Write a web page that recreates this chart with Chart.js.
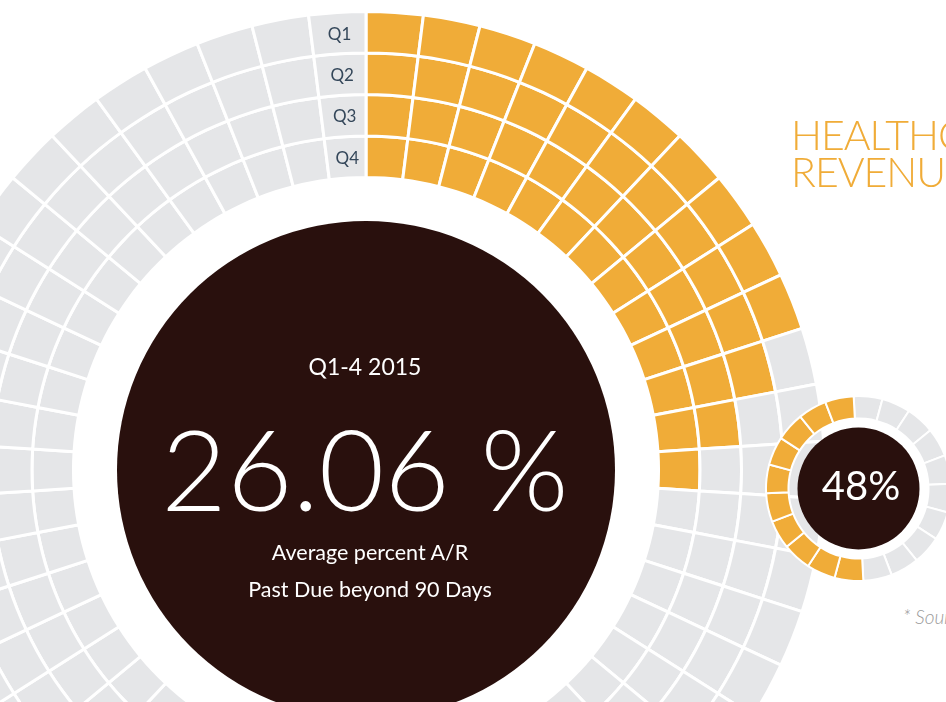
<!DOCTYPE html>
<html>
<head>
<meta charset="utf-8">
<script src="https://cdn.jsdelivr.net/npm/chart.js@4.4.1/dist/chart.umd.min.js"></script>
<style>
html, body { margin: 0; padding: 0; width: 946px; height: 702px; overflow: hidden; background: #fff; font-family: Lato, 'Open Sans', sans-serif; }
#ringChart { position: absolute; left: -94px; top: 10px; }
#smallChart { position: absolute; left: 765px; top: 395px; }
.txt { position: absolute; white-space: nowrap; transform: translate(-50%, -50%); line-height: 1; color: #fff; }
#period { left: 365px; top: 366px; font-size: 23px; }
#bigValue { left: 365px; top: 467px; font-size: 113px; font-weight: 300; }
#caption1 { left: 370px; top: 553px; font-size: 21.5px; }
#caption2 { left: 370px; top: 590px; font-size: 21.5px; }
#smallValue { left: 861px; top: 485px; font-size: 40px; }
#title { position: absolute; left: 791px; top: 116px; font-size: 41px; line-height: 37px; font-weight: 300; letter-spacing: -1px; color: #f0ac38; white-space: nowrap; }
#source { position: absolute; left: 903px; top: 605px; font-size: 19px; font-style: italic; font-weight: 300; color: #9b9b9b; white-space: nowrap; }
</style>
</head>
<body>
<canvas id="ringChart" width="920" height="920"></canvas>
<canvas id="smallChart" width="187" height="187"></canvas>
<div class="txt" id="period">Q1-4 2015</div>
<div class="txt" id="bigValue">26.06 %</div>
<div class="txt" id="caption1">Average percent A/R</div>
<div class="txt" id="caption2">Past Due beyond 90 Days</div>
<div class="txt" id="smallValue">48%</div>
<div id="title">HEALTHCARE<br>REVENUE</div>
<div id="source">* Source</div>
<script>
// rings, outer to inner
var quarters = ['Q1', 'Q2', 'Q3', 'Q4'];
var filledCells = [10, 11, 12, 13];   // orange cells per ring (each cell = 2%)
var cellsPerRing = 50;

// small gauge
var smallCells = 20;
var smallFilled = 10;

const orange = '#f0ac38';
const grey = '#e5e6e8';
const dark = '#29100d';

var discPlugin = {
    id: 'disc',
    afterDatasetsDraw: function (chart, args, opts) {
        var arc = chart.getDatasetMeta(0).data[0];
        var ctx = chart.ctx;
        ctx.save();
        ctx.fillStyle = opts.color;
        ctx.beginPath();
        ctx.arc(arc.x, arc.y, opts.radius, 0, Math.PI * 2);
        ctx.fill();
        ctx.restore();
    }
};

var quarterLabels = {
    id: 'quarterLabels',
    afterDatasetsDraw: function (chart) {
        var ctx = chart.ctx;
        ctx.save();
        ctx.fillStyle = '#34475a';
        ctx.font = '17px Lato';
        ctx.textAlign = 'center';
        ctx.textBaseline = 'middle';
        chart.data.datasets.forEach(function (ds, i) {
            var last = chart.getDatasetMeta(i).data[cellsPerRing - 1];
            var p = last.getCenterPoint();
            ctx.fillText(ds.label, p.x + 1, p.y + 1);
        });
        ctx.restore();
    }
};

var datasetsRing = quarters.map(function (q, i) {
    var cells = [];
    var colors = [];
    for (var c = 0; c < cellsPerRing; c++) {
        cells.push(1);
        colors.push(c < filledCells[i] ? orange : grey);
    }
    return {
        label: q,
        data: cells,
        backgroundColor: colors,
        borderColor: '#fff',
        borderWidth: 3,
        hoverBorderWidth: 3
    };
});

new Chart(document.getElementById('ringChart'), {
    type: 'doughnut',
    data: { labels: datasetsRing[0].data.map(function (v, k) { return 'cell ' + (k + 1); }), datasets: datasetsRing },
    options: {
        responsive: false,
        animation: false,
        events: [],
        cutout: '63.8%',
        layout: { padding: 0 },
        plugins: {
            legend: { display: false },
            tooltip: { enabled: false },
            disc: { color: dark, radius: 249 }
        }
    },
    plugins: [quarterLabels, discPlugin]
});

var smallData = [];
var smallColors = [];
for (var s = 0; s < smallCells; s++) {
    smallData.push(1);
    smallColors.push(s < smallCells - smallFilled ? grey : orange);
}

new Chart(document.getElementById('smallChart'), {
    type: 'doughnut',
    data: {
        labels: smallData.map(function (v, k) { return 'cell ' + (k + 1); }),
        datasets: [{
            data: smallData,
            backgroundColor: smallColors,
            borderColor: '#fff',
            borderWidth: 2,
            hoverBorderWidth: 2
        }]
    },
    options: {
        responsive: false,
        animation: false,
        events: [],
        cutout: '75.7%',
        rotation: -3,
        plugins: {
            legend: { display: false },
            tooltip: { enabled: false },
            disc: { color: dark, radius: 61 }
        }
    },
    plugins: [discPlugin]
});
</script>
</body>
</html>
